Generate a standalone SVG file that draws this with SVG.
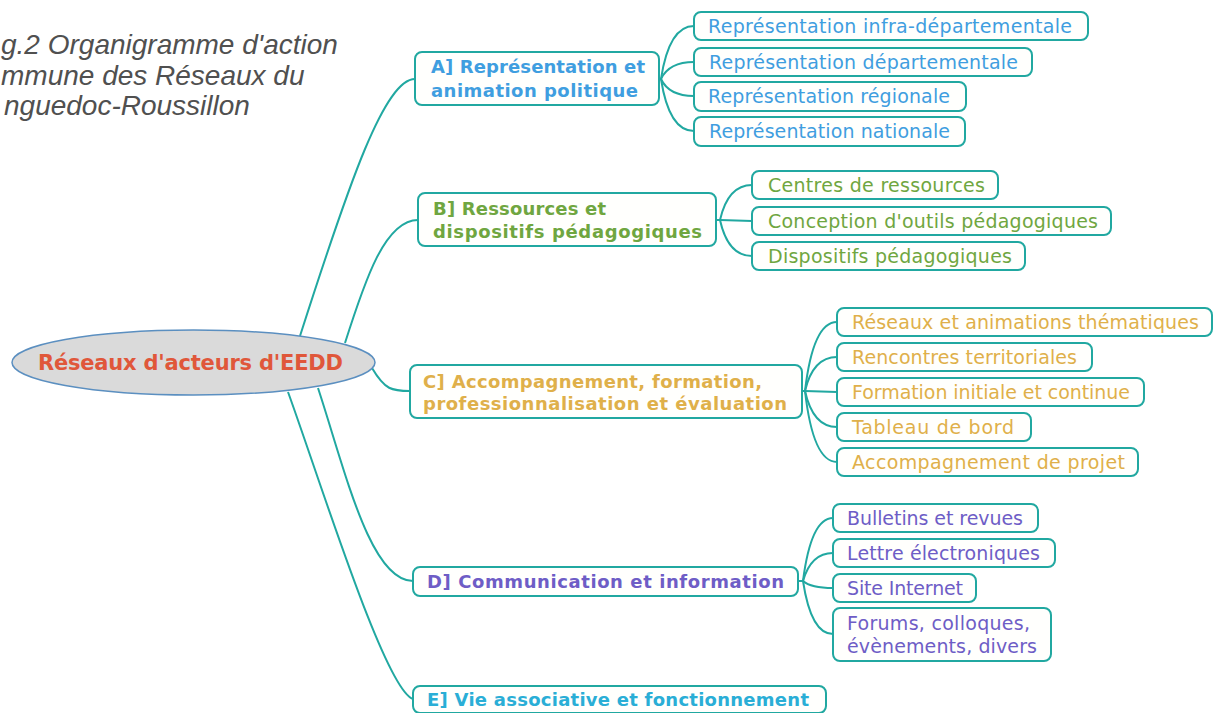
<svg xmlns="http://www.w3.org/2000/svg" width="1213" height="713" viewBox="0 0 1213 713">
<style>
.title{font-family:"Liberation Sans",Arial,sans-serif;font-style:italic;font-size:28px;fill:#505050}
.box{fill:#fffffd;stroke:#21a8a1;stroke-width:2}
.con{fill:none;stroke:#21a8a1;stroke-width:2}
.b{font-family:"DejaVu Sans",Verdana,sans-serif;font-weight:bold;font-size:18px}
.r{font-family:"DejaVu Sans",Verdana,sans-serif;font-size:19px}
.ca{fill:#3f9ee0}.cb{fill:#6fa640}.cc{fill:#dfb04a}.cd{fill:#6e5dc6}.ce{fill:#2aaed6}
</style>
<rect width="1213" height="713" fill="#ffffff"/>
<g id="title">
<text class="title" x="1" y="54">g.2 Organigramme d'action</text>
<text class="title" x="1" y="85">mmune des Réseaux du</text>
<text class="title" x="4" y="115">nguedoc-Roussillon</text>
</g>
<g id="connectors">
<path class="con" d="M300,336 C350,180 385,79 415,79"/>
<path class="con" d="M345,343 C365,280 385,220 418,220"/>
<path class="con" d="M372,368 C385,390 392,391 410,391"/>
<path class="con" d="M318,388 C345,470 370,581 413,581"/>
<path class="con" d="M288,392 C320,480 385,690 413,699"/>
<path class="con" d="M659,79 L661,79 Q669,26 694,26"/>
<path class="con" d="M661,79 Q669,62 694,62"/>
<path class="con" d="M661,79 Q669,96 694,96"/>
<path class="con" d="M661,79 Q669,131 694,131"/>
<path class="con" d="M716,220 L720,220 Q728,185 752,185"/>
<path class="con" d="M720,220 L752,221"/>
<path class="con" d="M720,220 Q728,256 752,256"/>
<path class="con" d="M802,391 L805,391 Q813,322 837,322"/>
<path class="con" d="M805,391 Q813,357 837,357"/>
<path class="con" d="M805,391 L837,392"/>
<path class="con" d="M805,391 Q813,427 837,427"/>
<path class="con" d="M805,391 Q813,462 837,462"/>
<path class="con" d="M798,581 L803,581 Q811,518 833,518"/>
<path class="con" d="M803,581 Q811,553 833,553"/>
<path class="con" d="M803,581 Q811,588 833,588"/>
<path class="con" d="M803,581 Q811,634 833,634"/>
</g>
<g id="root">
<ellipse cx="193.5" cy="362.5" rx="181.5" ry="32.5" fill="#dadada" stroke="#5b8fc0" stroke-width="1.5"/>
<text x="38" y="370" textLength="305" class="b" style="font-size:21px;fill:#e0573a">Réseaux d'acteurs d'EEDD</text>
</g>
<g id="nodeA">
<rect class="box" x="415" y="52" width="244" height="53" rx="7"/>
<text class="b ca" x="431" y="73" textLength="214">A] Représentation et</text>
<text class="b ca" x="431" y="97" textLength="207">animation politique</text>
</g>
<g id="nodeA1"><rect class="box" x="694" y="12" width="394" height="28" rx="7"/><text class="r ca" x="708" y="33" textLength="364">Représentation infra-départementale</text></g>
<g id="nodeA2"><rect class="box" x="694" y="48" width="338" height="28" rx="7"/><text class="r ca" x="709" y="69" textLength="309">Représentation départementale</text></g>
<g id="nodeA3"><rect class="box" x="694" y="82" width="272" height="29" rx="7"/><text class="r ca" x="708" y="103" textLength="242">Représentation régionale</text></g>
<g id="nodeA4"><rect class="box" x="694" y="117" width="271" height="29" rx="7"/><text class="r ca" x="709" y="138" textLength="241">Représentation nationale</text></g>
<g id="nodeB">
<rect class="box" x="418" y="193" width="298" height="53" rx="7"/>
<text class="b cb" x="433" y="215" textLength="173">B] Ressources et</text>
<text class="b cb" x="433" y="238" textLength="269">dispositifs pédagogiques</text>
</g>
<g id="nodeB1"><rect class="box" x="752" y="171" width="246" height="28" rx="7"/><text class="r cb" x="768" y="192" textLength="217">Centres de ressources</text></g>
<g id="nodeB2"><rect class="box" x="752" y="207" width="359" height="28" rx="7"/><text class="r cb" x="768" y="228" textLength="330">Conception d'outils pédagogiques</text></g>
<g id="nodeB3"><rect class="box" x="752" y="242" width="273" height="28" rx="7"/><text class="r cb" x="768" y="263" textLength="244">Dispositifs pédagogiques</text></g>
<g id="nodeC">
<rect class="box" x="410" y="365" width="392" height="53" rx="7"/>
<text class="b cc" x="423" y="388" textLength="339">C] Accompagnement, formation,</text>
<text class="b cc" x="423" y="410" textLength="364">professionnalisation et évaluation</text>
</g>
<g id="nodeC1"><rect class="box" x="837" y="308" width="375" height="28" rx="7"/><text class="r cc" x="852" y="329" textLength="347">Réseaux et animations thématiques</text></g>
<g id="nodeC2"><rect class="box" x="837" y="343" width="255" height="28" rx="7"/><text class="r cc" x="852" y="364" textLength="225">Rencontres territoriales</text></g>
<g id="nodeC3"><rect class="box" x="837" y="378" width="307" height="28" rx="7"/><text class="r cc" x="852" y="399" textLength="278">Formation initiale et continue</text></g>
<g id="nodeC4"><rect class="box" x="837" y="413" width="194" height="28" rx="7"/><text class="r cc" x="852" y="434" textLength="162">Tableau de bord</text></g>
<g id="nodeC5"><rect class="box" x="837" y="448" width="301" height="28" rx="7"/><text class="r cc" x="852" y="469" textLength="273">Accompagnement de projet</text></g>
<g id="nodeD">
<rect class="box" x="413" y="567" width="385" height="29" rx="7"/>
<text class="b cd" x="427" y="588" textLength="357">D] Communication et information</text>
</g>
<g id="nodeD1"><rect class="box" x="833" y="504" width="205" height="28" rx="7"/><text class="r cd" x="847" y="525" textLength="176">Bulletins et revues</text></g>
<g id="nodeD2"><rect class="box" x="833" y="539" width="222" height="28" rx="7"/><text class="r cd" x="847" y="560" textLength="193">Lettre électroniques</text></g>
<g id="nodeD3"><rect class="box" x="833" y="574" width="143" height="28" rx="7"/><text class="r cd" x="847" y="595" textLength="116">Site Internet</text></g>
<g id="nodeD4"><rect class="box" x="833" y="608" width="218" height="53" rx="7"/><text class="r cd" x="847" y="630" textLength="183">Forums, colloques,</text><text class="r cd" x="847" y="653" textLength="190">évènements, divers</text></g>
<g id="nodeE">
<rect class="box" x="413" y="686" width="413" height="27" rx="7"/>
<text class="b ce" x="427" y="706" textLength="382">E] Vie associative et fonctionnement</text>
</g>
</svg>
